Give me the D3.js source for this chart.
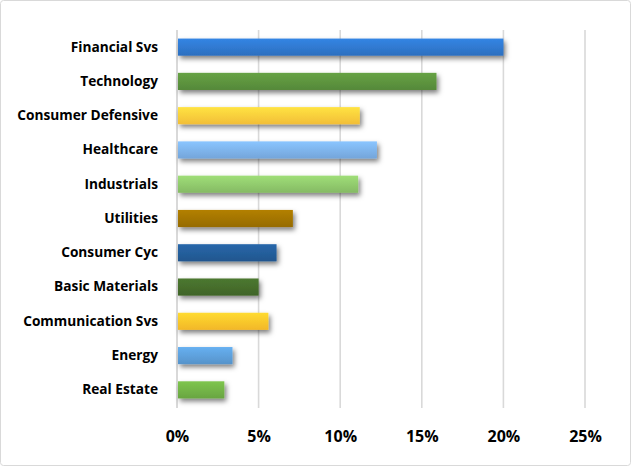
<!DOCTYPE html>
<html><head><meta charset="utf-8">
<script src="https://cdn.jsdelivr.net/npm/d3@7"></script>
<style>body{margin:0;background:#fff}svg{display:block}</style>
</head><body>
<script>
const categories = ["Financial Svs","Technology","Consumer Defensive","Healthcare","Industrials","Utilities","Consumer Cyc","Basic Materials","Communication Svs","Energy","Real Estate"];
const values = [0.200,0.159,0.112,0.1225,0.111,0.071,0.061,0.050,0.056,0.034,0.029];
const colors = ["#2e75c9","#5a8f3c","#ffc83a","#7aaee6","#8cc46a","#9e7100","#235b96","#436a2a","#ffc12a","#5b9bd5","#6fae45"];
const tickValues = [0,0.05,0.10,0.15,0.20,0.25];

const W=631,H=466;
const svg=d3.select("body").append("svg").attr("width",W).attr("height",H);
const defs=svg.append("defs");
const f=defs.append("filter").attr("id","sh").attr("x","-10%").attr("y","-30%").attr("width","130%").attr("height","200%");
f.append("feDropShadow").attr("dx",2).attr("dy",3).attr("stdDeviation",2.8).attr("flood-color","#000").attr("flood-opacity",0.5);
colors.forEach((c,i)=>{
  const g=defs.append("linearGradient").attr("id","g"+i).attr("x1",0).attr("y1",0).attr("x2",0).attr("y2",1);
  g.append("stop").attr("offset","0%").attr("stop-color",d3.color(c).brighter(0.35));
  g.append("stop").attr("offset","100%").attr("stop-color",d3.color(c).darker(0.15));
});
svg.append("rect").attr("x",0.5).attr("y",0.5).attr("width",W-1).attr("height",H-1).attr("rx",3)
  .attr("fill","#fff").attr("stroke","#d9d9d9");

const x=d3.scaleLinear().domain([0,0.25]).range([177,585]);
const y=d3.scaleBand().domain(categories).range([30,407]).paddingInner(0.5).paddingOuter(0.25);

svg.append("g").selectAll("line").data(tickValues).join("line")
  .attr("x1",d=>x(d)).attr("x2",d=>x(d)).attr("y1",30).attr("y2",408)
  .attr("stroke","#d9d9d9").attr("stroke-width",d=>d===0?2:1.6);

svg.append("g").selectAll("rect").data(categories).join("rect")
  .attr("x",x(0)+1).attr("y",d=>y(d)).attr("height",y.bandwidth())
  .attr("width",(d,i)=>x(values[i])-x(0)-1)
  .attr("fill",(d,i)=>`url(#g${i})`).attr("filter","url(#sh)");

const ya=svg.append("g").attr("transform",`translate(${x(0)},0)`).call(d3.axisLeft(y).tickSize(0).tickPadding(19));
ya.select(".domain").remove();
ya.selectAll("text").attr("font-family","Open Sans, Noto Sans, sans-serif").attr("font-weight","bold").attr("font-size",13.7).attr("fill","#000");

const xa=svg.append("g").attr("transform","translate(0,437)").call(d3.axisBottom(x).tickValues(tickValues).tickFormat(d3.format(".0%")).tickSize(0).tickPadding(0));
xa.select(".domain").remove();
xa.selectAll("text").attr("font-family","Open Sans, Noto Sans, sans-serif").attr("font-weight","bold").attr("font-size",16).attr("fill","#000").attr("dy","0.32em");
</script>
</body></html>
